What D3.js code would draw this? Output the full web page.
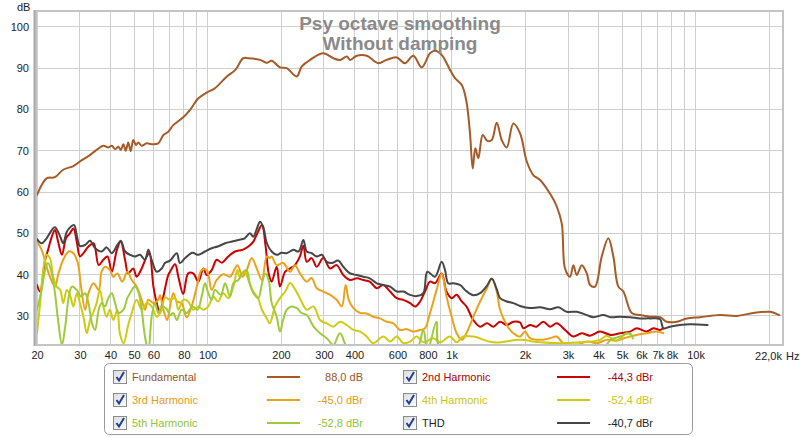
<!DOCTYPE html>
<html><head><meta charset="utf-8">
<script src="https://cdn.jsdelivr.net/npm/d3@7"></script>
<style>
body{margin:0;background:#fff;}
svg{display:block;font-family:"Liberation Sans",Arial,sans-serif;}
</style>
</head><body>
<svg id="c" width="800" height="437"></svg>
<script>
// ---------- data (frequency Hz, level dB) ----------
const fundamental = [[20,59.3],[21.9,63.3],[23.7,63.6],[25.6,65.4],[28.2,66.3],[30,67.4],[32.5,68.7],[35.1,70.2],[37.4,71.2],[39.2,70.8],[40.5,71.2],[41.8,70.4],[43.1,71.0],[44.1,70.2],[45.2,71.6],[46.2,70.0],[47.3,72.0],[48.4,69.9],[49.6,72.6],[50.9,71.4],[52.0,72.0],[53.7,71.2],[56.3,71.8],[59.0,71.6],[62.8,71.8],[65.9,73.8],[69.0,74.6],[72.4,76.2],[79.5,78.1],[84.8,79.9],[91.7,82.7],[99.2,84.1],[107,85.1],[120,88.0],[130,89.6],[140,92.4],[147,92.4],[164,92.0],[175,91.3],[183,91.8],[198,90.2],[211,90.0],[232,88.0],[243,90.4],[263,92.0],[298,93.6],[328,92.4],[349,92.0],[372,92.8],[384,92.0],[409,93.0],[449,93.0],[501,91.2],[542,92.0],[596,92.6],[644,91.2],[697,93.0],[754,90.2],[816,93.6],[855,94.2],[911,93.2],[985,89.6],[1033,87.6],[1101,85.9],[1150,82.0],[1190,74.2],[1221,65.7],[1251,70.6],[1287,68.2],[1342,73.8],[1402,72.4],[1461,72.6],[1531,76.8],[1605,72.6],[1683,70.8],[1791,76.6],[1909,74.2],[2033,67.4],[2163,64.1],[2305,62.9],[2574,58.9],[2698,56.5],[2828,52.4],[2917,41.5],[3058,39.5],[3156,42.3],[3258,39.9],[3416,42.3],[3582,40.3],[3695,37.5],[3872,37.1],[4125,44.4],[4390,48.8],[4602,44.4],[4825,37.1],[5059,35.9],[5474,30.7],[5920,30.2],[6506,29.8],[7151,29.7],[7616,28.6],[8372,28.6],[9201,29.4],[10430,29.7],[12600,30.2],[14750,30.0],[17250,30.7],[20190,31.0],[22000,30.2]];

const harmonic2 = [[20,37.5],[20.6,35.9],[21.6,43.6],[22.2,46.0],[23.0,49.2],[23.7,50.8],[24.4,48.0],[25.3,44.8],[26.3,48.8],[27.3,50.0],[28.2,51.2],[29.1,48.0],[30.0,44.4],[31.0,45.2],[32.5,46.8],[34.1,47.6],[35.8,42.3],[37.4,43.6],[38.9,44.4],[40.5,40.7],[42.5,46.0],[44.1,48.0],[45.9,43.6],[47.3,40.3],[49.6,41.5],[51.2,39.5],[53.7,41.5],[56.3,44.4],[57.7,45.2],[60.0,37.1],[61.9,33.1],[63.8,30.7],[65.9,34.7],[69.0,39.9],[70.2,40.7],[73.6,42.5],[75.9,39.5],[79.5,35.3],[83.3,40.3],[87.3,40.3],[91.7,38.3],[96.1,41.5],[99.2,39.9],[104,41.1],[109,43.6],[114.5,42.9],[121.6,44.4],[129.6,45.6],[139,46.0],[147,46.8],[154,48.0],[161,50.4],[167,52.0],[173,46.8],[178,40.3],[183,38.3],[192,41.9],[198,37.1],[208,40.7],[218,41.5],[228,42.3],[239,44.4],[247,47.0],[255,43.1],[267,44.0],[280,41.9],[298,44.0],[318,41.5],[338,42.3],[360,39.9],[384,38.7],[409,39.1],[435,38.7],[462,38.3],[494,36.7],[525,37.5],[560,35.9],[596,34.3],[634,33.9],[676,33.1],[709,32.3],[743,33.5],[778,35.9],[816,38.3],[855,37.9],[911,40.3],[953,35.9],[1001,34.3],[1049,35.1],[1101,33.5],[1150,32.3],[1228,29.0],[1309,27.4],[1396,28.2],[1484,27.4],[1580,28.6],[1683,27.8],[1791,28.6],[1909,28.4],[1968,27.0],[2097,27.8],[2226,27.4],[2378,28.6],[2532,27.4],[2698,28.2],[2917,26.6],[3156,25.0],[3416,25.8],[3695,25.2],[4059,26.2],[4483,25.4],[4902,25.8],[5386,26.2],[5740,27.0],[6306,26.2],[6711,27.0],[7151,26.6],[7379,27.0]];

const harmonic3 = [[20,48.0],[20.9,46.0],[21.9,41.9],[22.6,39.5],[23.7,37.1],[24.4,39.9],[25.6,43.6],[27.0,45.6],[28.2,45.2],[29.4,42.8],[30.3,37.1],[31.5,31.5],[32.5,35.5],[34.1,37.9],[35.8,36.3],[36.8,40.7],[38.0,41.9],[39.8,41.1],[41.1,39.5],[42.7,40.3],[44.7,38.3],[46.9,40.7],[48.9,38.7],[51.2,37.1],[53.7,33.9],[55.4,31.5],[57.2,33.9],[60.0,33.1],[62.8,33.9],[63.8,35.0],[65.9,31.5],[68.3,29.0],[70.2,32.3],[72.4,35.5],[74.8,33.5],[78.3,33.1],[82.1,29.6],[86.6,32.9],[90.9,37.7],[94.6,41.1],[99.2,41.1],[104,36.3],[109,38.7],[116,40.1],[123.6,39.5],[132.5,42.3],[139,39.5],[144.6,41.1],[151.8,44.0],[159,41.5],[167,38.7],[175,44.4],[180,44.0],[183,44.4],[192,42.3],[204,42.8],[218,40.7],[228,42.3],[239,40.3],[255,38.3],[267,39.2],[280,36.7],[298,35.9],[318,35.1],[338,33.9],[355,32.3],[368,37.5],[379,33.9],[396,31.9],[422,30.7],[449,30.6],[477,29.8],[509,29.4],[542,28.6],[577,28.2],[615,26.6],[655,26.8],[697,26.2],[743,26.6],[778,27.0],[816,30.7],[868,36.3],[911,40.3],[953,34.7],[1001,29.8],[1049,25.8],[1101,24.2],[1150,25.8],[1228,29.8],[1309,33.5],[1396,36.7],[1461,39.1],[1531,35.9],[1580,31.5],[1683,27.8],[1791,25.8],[1909,25.0],[2000,26.2],[2097,24.6],[2305,24.2],[2532,24.6],[2698,25.0],[2871,23.4],[3258,23.0],[3582,23.8],[3936,23.4],[4322,24.2],[4733,24.0],[5225,24.8],[5740,25.4],[6306,25.8],[6926,26.2],[7379,25.8]];

const harmonic4 = [[20,25.8],[20.6,33.1],[21.2,41.1],[21.9,44.8],[22.6,44.0],[23.3,39.5],[24.1,37.1],[24.9,36.3],[25.6,33.1],[26.5,36.3],[27.3,35.1],[28.2,32.3],[29.1,35.5],[30.0,33.1],[31.0,29.8],[32.0,25.8],[33.0,29.0],[34.1,31.0],[35.1,33.1],[36.2,36.3],[37.4,32.3],[38.6,29.8],[39.8,31.5],[41.1,29.0],[42.7,31.5],[43.7,25.8],[45.3,23.4],[47.3,27.8],[48.9,30.7],[51.2,33.9],[53.7,31.5],[56.3,33.1],[59.0,32.3],[61.9,29.8],[64.9,31.5],[66.9,34.5],[70.2,33.9],[73.6,34.3],[75.9,31.5],[79.5,33.9],[83.3,33.5],[87.3,31.5],[91.7,32.3],[96.1,31.5],[100.7,32.3],[105.5,34.7],[110.4,33.5],[116,35.5],[121.6,34.3],[127.5,37.1],[132.5,41.1],[135.2,39.5],[142,40.7],[147,38.7],[154,35.9],[161,34.3],[167,31.5],[175,29.4],[180,28.2],[189,32.3],[198,34.3],[208,35.9],[218,38.0],[228,36.5],[239,34.3],[255,31.5],[272,32.3],[289,29.0],[308,28.2],[328,27.4],[349,28.6],[372,27.8],[396,26.6],[422,26.2],[449,25.0],[477,23.4],[525,25.0],[560,23.8],[596,25.0],[634,23.4],[676,23.8],[720,25.0],[766,23.6],[842,24.6],[896,23.6],[985,25.0],[1049,23.6],[1110,25.0],[1228,25.0],[1484,23.6],[1909,24.2],[2305,23.6],[2800,23.4],[3360,23.6],[4059,24.2],[4322,25.2],[4733,24.0],[5225,25.8],[5530,25.0]];

const harmonic5 = [[20,31.5],[20.9,36.3],[21.6,41.1],[22.2,42.8],[23.0,40.3],[23.7,35.5],[24.4,29.0],[25.3,23.0],[26.1,27.4],[27.0,34.7],[27.8,37.1],[29.1,36.3],[30.3,34.7],[31.5,35.5],[32.5,33.1],[33.6,28.2],[34.6,26.6],[35.8,31.5],[36.8,33.1],[38.0,32.3],[39.2,34.3],[40.5,35.5],[41.8,33.1],[43.1,30.7],[45.2,31.5],[46.9,34.3],[48.1,35.5],[50.4,37.1],[52.0,35.9],[53.7,31.5],[55.4,25.0],[57.2,21.5],[59.0,29.8],[60.9,33.1],[62.8,30.7],[64.9,32.3],[68.3,31.5],[70.2,30.2],[72.4,30.7],[74.8,29.0],[78.3,31.5],[82.1,30.7],[86.6,32.3],[90.9,31.5],[94.6,34.7],[97.6,37.9],[100.7,35.5],[104,33.9],[107.3,36.3],[113.3,35.1],[118,37.9],[123.6,34.7],[127.5,37.9],[133.7,38.7],[140.2,40.7],[144.6,41.1],[149.3,37.5],[154.1,35.5],[161.4,34.3],[167.1,37.9],[172.6,40.3],[178.2,38.5],[183.2,33.1],[192,29.8],[198,26.2],[204,29.0],[211,31.5],[221,32.3],[232,31.9],[243,30.7],[255,30.2],[272,27.4],[289,25.8],[308,24.6],[328,23.0],[349,25.8],[384,21.5],[709,21.5],[766,26.6],[796,21.5],[868,28.6],[911,21.5],[4059,21.5],[4483,24.2],[4902,25.0],[5386,25.8],[5530,24.5]];

const thd = [[20,48.6],[20.9,47.6],[21.9,48.8],[23.0,50.8],[23.7,51.5],[24.9,49.2],[25.6,47.6],[26.5,50.4],[27.5,51.6],[28.4,52.0],[29.1,49.6],[30.0,46.9],[31.5,47.2],[33.0,48.2],[34.6,46.4],[36.8,45.6],[38.6,46.6],[40.5,45.2],[42.7,47.2],[44.1,48.2],[45.9,45.6],[48.1,44.8],[50.4,44.4],[52.9,44.8],[55.4,43.6],[57.2,46.0],[59.0,43.6],[61.9,40.7],[64.9,41.5],[66.9,42.8],[70.2,43.4],[74.8,45.2],[77.0,42.8],[80.9,44.0],[86.6,45.3],[91.7,44.8],[97.6,45.6],[104,46.4],[110,46.8],[118,47.6],[126,48.0],[134,48.4],[142,48.8],[149,50.0],[154,49.2],[159,51.0],[164,52.8],[169,51.6],[175,47.6],[183,45.6],[192,44.8],[201,45.3],[211,45.2],[225,46.0],[236,45.6],[247,48.4],[255,45.6],[267,45.2],[280,44.4],[294,44.8],[308,43.1],[323,42.8],[343,43.4],[360,41.9],[384,40.3],[409,39.9],[435,39.5],[462,39.1],[494,37.9],[525,37.5],[560,37.1],[596,35.9],[634,35.9],[676,35.1],[720,34.8],[766,35.5],[796,40.7],[855,39.5],[911,43.1],[940,41.1],[969,37.9],[1016,37.9],[1082,37.5],[1150,36.0],[1228,35.0],[1309,35.5],[1396,37.3],[1461,39.0],[1531,36.5],[1580,34.3],[1683,33.5],[1791,33.1],[1909,32.4],[2097,31.9],[2305,32.1],[2532,31.6],[2740,32.1],[2965,31.0],[3258,31.0],[3582,30.2],[3811,29.7],[4187,30.2],[4483,29.7],[4902,29.8],[5386,29.7],[5920,29.4],[6506,29.4],[7151,29.2],[7379,27.0],[7852,27.4],[8631,27.8],[9492,28.0],[11200,27.8]];

const xTickValues = [20,30,40,50,60,80,100,200,300,400,600,800,1000,2000,3000,4000,5000,6000,7000,8000,10000];
const xTickLabels = ["20","30","40","50","60","80","100","200","300","400","600","800","1k","2k","3k","4k","5k","6k","7k","8k","10k"];
const xGridValues = [20,30,40,50,60,70,80,90,100,200,300,400,500,600,700,800,900,1000,2000,3000,4000,5000,6000,7000,8000,9000,10000,20000];
const yTickValues = [30,40,50,60,70,80,90,100];
const titleLines = ["Psy octave smoothing","Without damping"];

const seriesNames  = ["Fundamental","2nd Harmonic","3rd Harmonic","4th Harmonic","5th Harmonic","THD"];
const seriesValues = ["88,0 dB","-44,3 dBr","-45,0 dBr","-52,4 dBr","-52,8 dBr","-40,7 dBr"];
const seriesData   = [fundamental, harmonic2, harmonic3, harmonic4, harmonic5, thd];
const seriesColors = ["#a65a28","#cc0000","#eba119","#cfcb12","#9ccb3c","#464646"];
const legendText   = ["#9a5428","#b00000","#e09a1c","#c8c41a","#8cc43a","#222222"];

// ---------- layout ----------
const svg = d3.select("#c");
const L = 37, R = 782, T = 12, B = 344;
const x = d3.scaleLog().domain([20, 22600]).range([L, R]);
const y = d3.scaleLinear().domain([23.2, 103.6]).range([B, T]);

svg.append("rect").attr("width",800).attr("height",437).attr("fill","#fff");

// grid
const grid = svg.append("g");
grid.selectAll("line.v").data(xGridValues).join("line")
  .attr("x1",d=>x(d)).attr("x2",d=>x(d)).attr("y1",T).attr("y2",B)
  .attr("stroke","#cfcfcf").attr("stroke-width",1).attr("shape-rendering","crispEdges");
grid.selectAll("line.h").data(yTickValues).join("line")
  .attr("x1",L).attr("x2",R).attr("y1",d=>y(d)).attr("y2",d=>y(d))
  .attr("stroke","#cfcfcf").attr("stroke-width",1).attr("shape-rendering","crispEdges");

// frame
svg.append("rect").attr("x",L-1).attr("y",T-1).attr("width",R-L+2).attr("height",B-T+2)
  .attr("fill","none").attr("stroke","#c4c4c4").attr("stroke-width",2);
svg.append("line").attr("x1",L-2.5).attr("x2",L-2.5).attr("y1",T-2).attr("y2",B+2)
  .attr("stroke","#a9a9a9").attr("stroke-width",2);

// axes labels
const axisFont = 11;
const yAxis = d3.axisLeft(y).tickValues(yTickValues).tickSize(0).tickPadding(6);
const gy = svg.append("g").attr("transform",`translate(${L-2},0)`).call(yAxis);
gy.select(".domain").remove();
gy.selectAll("text").attr("font-size",axisFont).attr("fill","#222").attr("font-family","Liberation Sans, Arial, sans-serif");

const xAxis = d3.axisBottom(x).tickValues(xTickValues).tickSize(0).tickPadding(6)
  .tickFormat((d,i)=>xTickLabels[xTickValues.indexOf(d)]);
const gx = svg.append("g").attr("transform",`translate(0,${B+1})`).call(xAxis);
gx.select(".domain").remove();
gx.selectAll("text").attr("font-size",axisFont).attr("fill","#222").attr("font-family","Liberation Sans, Arial, sans-serif");

svg.append("text").attr("x",R).attr("y",B+16).attr("text-anchor","end")
  .attr("font-size",axisFont).attr("fill","#222").text("22,0k");
svg.append("text").attr("x",R+4).attr("y",B+16).attr("font-size",axisFont).attr("fill","#222").text("Hz");
svg.append("text").attr("x",17).attr("y",11).attr("font-size",axisFont).attr("fill","#222").text("dB");

// curves
svg.append("clipPath").attr("id","plotclip").append("rect")
  .attr("x",L).attr("y",T).attr("width",R-L).attr("height",B-T);
const line = d3.line().x(d=>x(d[0])).y(d=>y(d[1])).curve(d3.curveCatmullRom.alpha(0.5));
const curves = svg.append("g").attr("clip-path","url(#plotclip)");
seriesData.forEach((data,i)=>{
  curves.append("path").datum(data).attr("d",line)
    .attr("fill","none").attr("stroke",seriesColors[i]).attr("stroke-width",2)
    .attr("stroke-linejoin","round").attr("stroke-linecap","round");
});

// title
svg.append("g").selectAll("text").data(titleLines).join("text")
  .attr("x",400).attr("y",(d,i)=>30+i*20).attr("text-anchor","middle")
  .attr("font-size",19).attr("font-weight","bold").attr("fill","#8a8a8a").text(d=>d);

// legend
const leg = svg.append("g");
leg.append("rect").attr("x",104.5).attr("y",363.5).attr("width",588).attr("height",71).attr("rx",5)
  .attr("fill","#fff").attr("stroke","#9a9a9a").attr("stroke-width",1);
const defs = svg.append("defs");
const grad = defs.append("linearGradient").attr("id","cbg").attr("x1",0).attr("y1",0).attr("x2",1).attr("y2",1);
grad.append("stop").attr("offset","0%").attr("stop-color","#dcdcdc");
grad.append("stop").attr("offset","100%").attr("stop-color","#fbfbfb");
const colX = [113, 403];
const rowY = [377, 400, 423];
seriesNames.forEach((name,i)=>{
  const cx = colX[i%2], cy = rowY[Math.floor(i/2)];
  const g = leg.append("g");
  g.append("rect").attr("x",cx+0.5).attr("y",cy-6.5).attr("width",13).attr("height",13)
    .attr("fill","url(#cbg)").attr("stroke","#8c8c8c");
  g.append("path").attr("d",`M${cx+3.5},${cy} L${cx+6},${cy+3.5} L${cx+11},${cy-5}`)
    .attr("fill","none").attr("stroke","#1f3f96").attr("stroke-width",2);
  g.append("text").attr("x",cx+19).attr("y",cy+4).attr("font-size",11).attr("fill",legendText[i]).text(name);
  g.append("line").attr("x1",cx+154).attr("x2",cx+187).attr("y1",cy).attr("y2",cy)
    .attr("stroke",seriesColors[i]).attr("stroke-width",2);
  g.append("text").attr("x",cx+250).attr("y",cy+4).attr("text-anchor","end")
    .attr("font-size",11).attr("fill",legendText[i]).text(seriesValues[i]);
});
</script>
</body></html>
